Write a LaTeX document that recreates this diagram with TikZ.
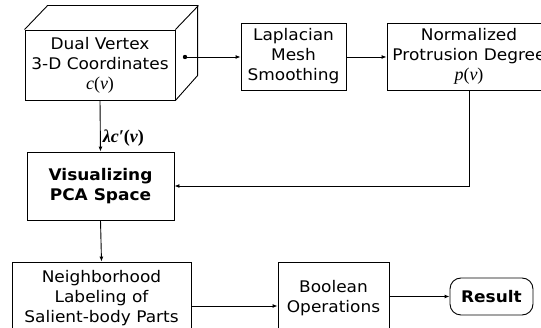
\documentclass[tikz,border=0pt]{standalone}
\usepackage{fontspec}
\setmainfont{DejaVu Sans}[FakeStretch=1.06]
\newfontfamily\tms{Liberation Serif}
\usetikzlibrary{arrows.meta}
\begin{document}
\begin{tikzpicture}[x=1pt,y=-1pt,
  box/.style={draw,line width=0.9pt,inner sep=0pt,align=center,
    font=\fontsize{16}{20}\selectfont},
  bbox/.style={box,font=\fontsize{16}{20}\selectfont\bfseries},
  arr/.style={line width=0.9pt,-{Latex[length=5pt,width=4pt]}},
  ln/.style={line width=0.9pt}]
\useasboundingbox (0,0) rectangle (541,328);
\clip (0,0) rectangle (541,328);
\node[box,minimum width=150pt,minimum height=70pt] (dual) at (100,65)
  {Dual Vertex\\3-D Coordinates\\{\tms\fontsize{18}{20}\selectfont\itshape c\upshape(\itshape v\upshape)}};
\draw[ln] (dual.north west) -- ++(23,-24) -- ++(150,0) -- ++(0,70) -- (dual.south east);
\draw[ln] (dual.north east) -- ++(23,-24);
\node[box,minimum width=105pt,minimum height=67pt] (lap) at (293.5,56.5)
  {Laplacian\\Mesh\\Smoothing};
\node[box,minimum width=164pt,minimum height=67pt] (norm) at (469,56.5)
  {Normalized\\Protrusion Degree\\{\tms\fontsize{18}{20}\selectfont\itshape p\upshape(\itshape v\upshape)}};
\node[bbox,minimum width=147pt,minimum height=68pt] (vis) at (100.5,186)
  {Visualizing\\PCA Space};
\node[box,minimum width=179pt,minimum height=72pt] (neigh) at (101.5,298)
  {Neighborhood\\Labeling of\\Salient-body Parts};
\node[box,minimum width=111pt,minimum height=72pt] (bool) at (333.5,298)
  {Boolean\\Operations};
\node[bbox,rounded corners=11pt,minimum width=83pt,minimum height=37pt] (res) at (491.5,296.5)
  {Result};
\coordinate (dot) at (185,57);
\fill (dot) circle (2.2);
\draw[arr] (dot) -- (lap.west |- dot);
\draw[arr] (lap.east |- dot) -- (norm.west |- dot);
\draw[arr] (norm.south) |- (vis.east);
\draw[arr] (dual.south) -- node[right,inner sep=2pt,font=\tms\fontsize{18}{20}\selectfont\bfseries\itshape,pos=0.74] (lab) {λc′\upshape(\itshape v\upshape)} (vis.north);
\draw[arr] (vis.south) -- (neigh.north);
\draw[arr] ([yshift=-8pt]neigh.east) -- ([yshift=-8pt]bool.west);
\draw[arr] (bool.east |- res.west) -- (res.west);
\end{tikzpicture}
\end{document}
